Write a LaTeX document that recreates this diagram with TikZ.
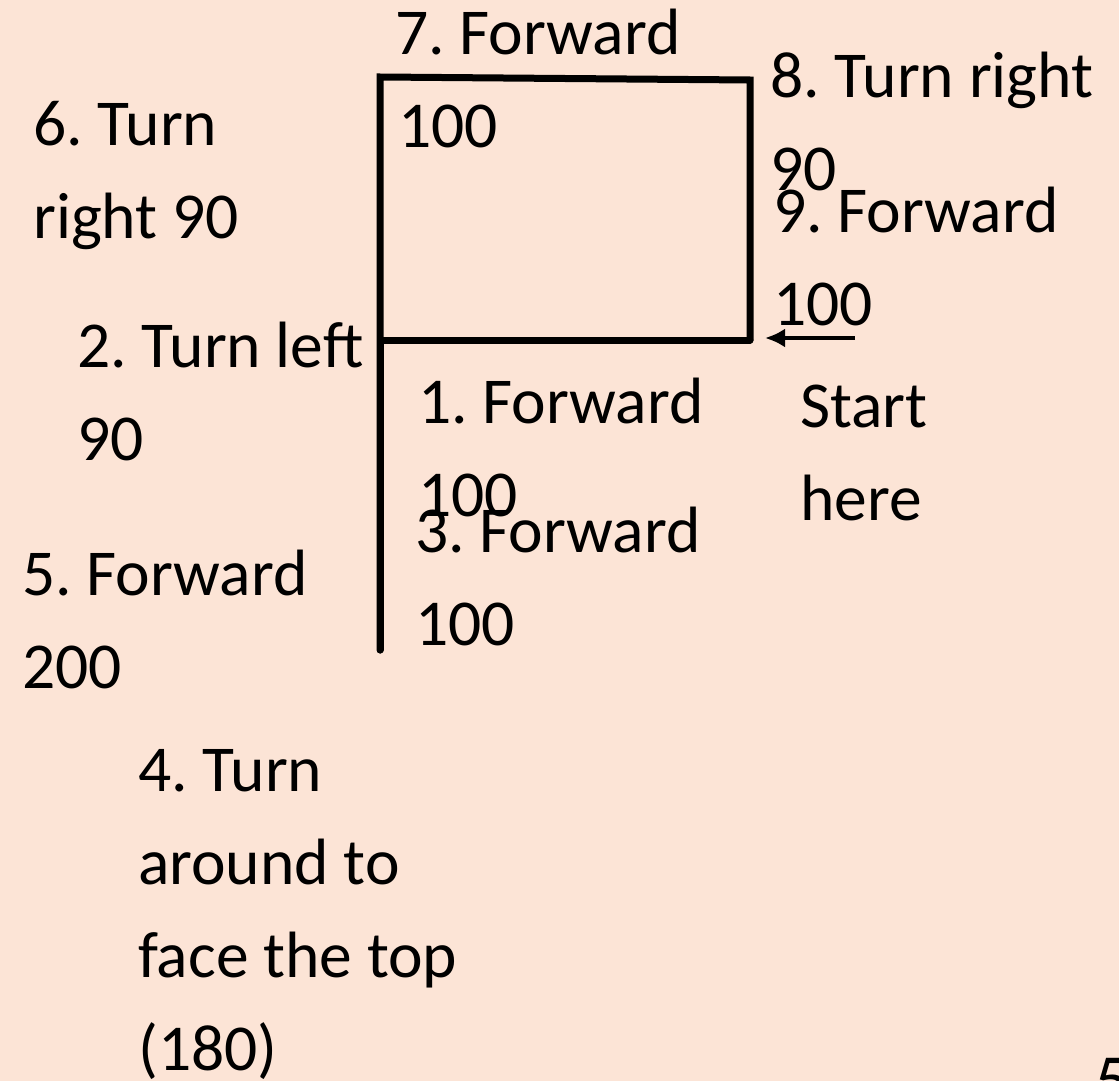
\documentclass[tikz,border=0pt]{standalone}
\usepackage{fontspec}
\setmainfont{Carlito}
\usepackage{xcolor}
\usetikzlibrary{arrows.meta}
\definecolor{peach}{HTML}{FCE4D6}
\frenchspacing

\begin{document}
\begin{tikzpicture}[
    x=1pt, y=-1pt,
    lbl/.style={anchor=base west, inner sep=0pt, align=left, font=\fontsize{65.5}{93}\selectfont},
    walk/.style={line width=7pt, line join=miter, line cap=round},
    arrow/.style={-{Latex[length=20pt, width=19pt]}, line width=4pt}
  ]
    \fill[peach] (0,0) rectangle (1119,1081);
    \useasboundingbox (0,0) rectangle (1119,1081);

    % turtle path
    \coordinate (start) at (750,340);
    \coordinate (turn1) at (380,340);
    \coordinate (low) at (380,650);
    \coordinate (top) at (380,77);
    \coordinate (corner) at (750,80);
    \draw[walk] (start) -- (turn1) -- (low);
    \draw[walk] (low) -- (top) -- (corner) -- (start);

    \coordinate (tail) at (855,338);
    \coordinate (tip) at (765,338);
    \draw[arrow] (tail) -- (tip);

    % steps (placed at the baseline of the last line)
    \node[lbl] (s1) at (418,516) {1. Forward\\100};
    \node[lbl] (s2) at (77,460) {2. Turn left\\90};
    \node[lbl] (s3) at (415,645) {3. Forward\\100};
    \node[lbl] (s4) at (138,1070) {4. Turn\\around to\\face the top\\(180)};
    \node[lbl] (s5) at (22,688) {5. Forward\\200};
    \node[lbl] (s6) at (33,238) {6. Turn\\right 90};
    \node[lbl] (s7) at (395,55) {7. Forward};
    \node[lbl] (s7b) at (398,147) {100};
    \node[lbl] (s8) at (770,190) {8. Turn right\\90};
    \node[lbl] (s9) at (773,325) {9. Forward\\100};
    \node[lbl] (here) at (800,520) {Start\\here};
    \node[anchor=north west, inner sep=0pt, font=\fontsize{72}{86}\selectfont\itshape] (page) at (1092,1058) {5};
\end{tikzpicture}
\end{document}
